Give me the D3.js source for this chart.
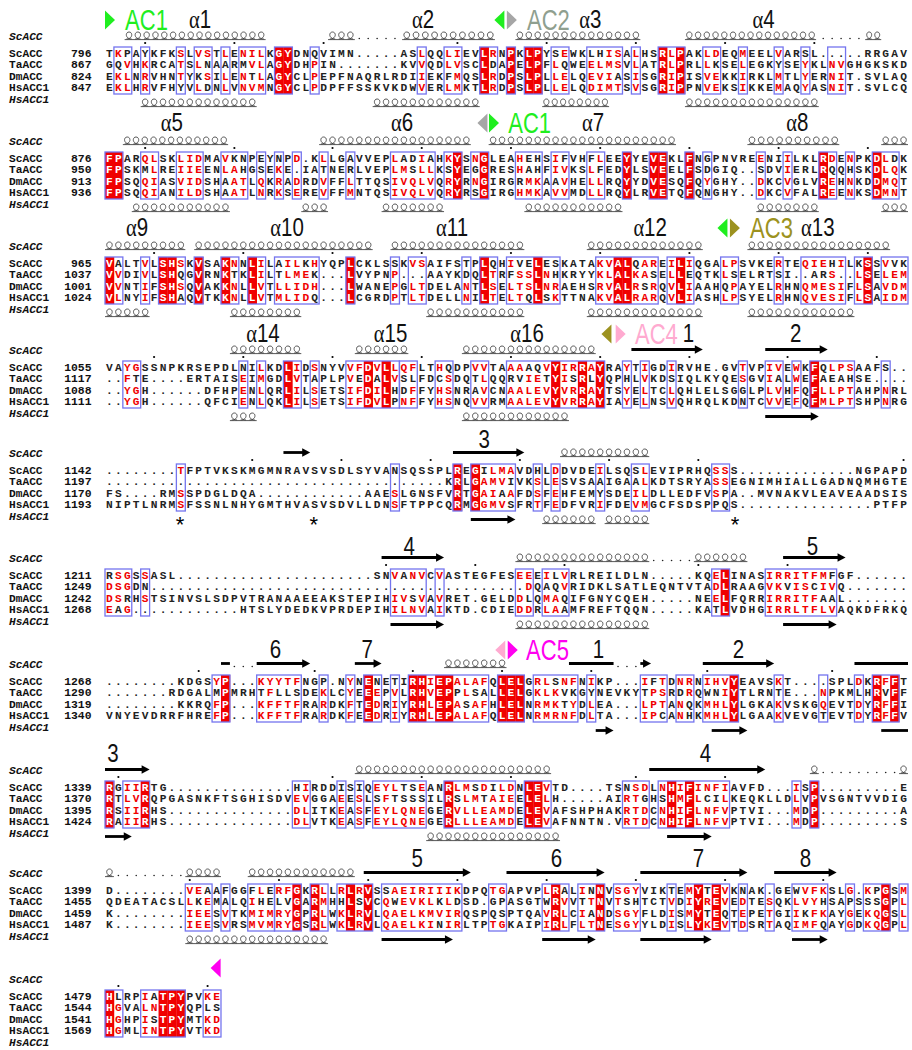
<!DOCTYPE html>
<html><head><meta charset="utf-8">
<script src="https://cdn.jsdelivr.net/npm/d3@7"></script>
<style>html,body{margin:0;padding:0;background:#fff}svg{display:block}</style>
</head><body><svg id="c" width="912" height="1050"></svg>
<script>
const speciesNames = ["ScACC","TaACC","DmACC","HsACC1"];
const startsSc = [796,876,965,1055,1142,1211,1268,1339,1399,1479];
const startsTa = [867,950,1037,1117,1197,1249,1290,1370,1455,1544];
const startsDm = [824,913,1001,1088,1170,1242,1319,1395,1459,1541];
const startsHs = [847,936,1024,1111,1193,1268,1340,1424,1487,1569];
const seqSc = [
"TKPAYKFKSLVSTLENILKGYDNQVIMN.....ASLQQLIEVLRNPKLPYSEWKLHISALHSRLPAKLDEQMEELVARSL.....RRGAV",
"FPARQLSKLIDMAVKNPEYNPD.KLLGAVVEPLADIAHKYSNGLEAHEHSIFVHFLEEYYEVEKLFNGPNVREENIILKLRDENPKDLDK",
"VALTVLSHSKVSAKNNLILAILKHYQPLCKLSSKVSAIFSTPLQHIVELESKATAKVALQAREILIQGALPSVKERTEQIEHILKSSVVK",
"VAYGSSNPKRSEPDLNILKDLIDSNYVVFDVLLQFLTHQDPVVTAAAAQVYIRRAYRAYTIGDIRVHE.GVTVPIVEWKFQLPSAAFS..",
"........TFPTVKSKMGMNRAVSVSDLSYVANSQSSPLREGILMAVDHLDDVDEILSQSLEVIPRHQSSS.............NGPAPD",
"RSGSSASL......................SNVANVCVASTEGFESEEEILVRLREILDLN.....KQELINASIRRITFMFGF......",
"........KDGSYP...KYYTFNGP.NYNENETIRHIEPALAFQLELGRLSNFNIKP...IFTDNRNIHVYEAVSKT....SPLDKRFFT",
"RGIIRTG..............HIRDDISIQEYLTSEANRLMSDILDNLEVTD....TSNSDLNHIFINFIAVFD...ISP.........E",
"D........VEAAFGGFLERFGKRLLRLRVSSAEIRIIIKDPQTGAPVPLRALINNVSGYVIKTEMYTEVKNAK.GEWVFKSLG.KPGSM",
"HLRPIATPYPVKE"];
const seqTa = [
"GQVHKRCATSLNAARMVLAGYDHPIN.......KVVQDLVSCLDAPELPFLQWEELMSVLATRLPRLLKSELEGKYSEYKLNVGHGKSKD",
"FPSKMLREIIEENLAHGSEKE.IATNERLVEPLMSLLKSYEGGRESHAHFIVKSLFEDYLSVEELFSDGIQ..SDVIERLRQQHSKDLQK",
"VVDIVLSHQGVRNKTKLILTLMEK...LVYPNP...AAYKDQLTRFSSLNHKRYYKLALKASELLEQTKLSELRTSI..ARS..LSELEM",
"..FTE....ERTAISEIMGDLVTAPLPVEDALVSLFDCSDQTLQQRVIETYISRLYQPHLVKDSIQLKYQESGVIALWEFAEAHSE....",
"......................................KRLGAMVIVKSLESVSAAIGAALKDTSRYASSEGNIMHIALLGADNQMHGTE",
"DSGDN..........................................DQAQVRIDKLSATLEQNTVTADLRAAGVKVISCIVQ.......",
".......RDGALMPMRHTFLLSDEKLCYEEEPVLRHVEPPLSALLELGKLKVKGYNEVKYTPSRDRQWNIYTLRNTE...NPKMLHRVFF",
"RTLVRQPGASNKFTSGHISDVEVGGAEESLSFTSSSILRSLMTAIEELELH.....AIRTGHSHMFLCILKEQKLLDLVPVSGNTVVDIG",
"QDEATACSLLKEMALQIHELVGARMHHLSVCQWEVKLKLDSD.GPASGTWRVVTTNVTSHTCTVDIYREVEDTESQKLVYHSAPSSSGPL",
"HGVALNTPYQPLS"];
const seqDm = [
"EKLNRVHNTYKSILENTLAGYCLPEPFNAQRLRDIIEKFMQSLRDPSLPLLELQEVIASISGRIPISVEKKIRKLMTLYERNIT.SVLAQ",
"FPSQQIASVIDSHAATLQKRADRDVFFLTTQSIVQLVQRYRNGIRGRMKAAVHELLRQYYDVESQFQYGHY..DKCVGLVREHNKDDMQT",
"VVNTIFSHSQVAKKNLLVTLLIDH...LWANEPGLTDELANTLSELTSLNRAEHSRVALRSRQVLIAAHQPAYELRHNQMESIFLSAVDM",
"..YGH......DFHPENLQRLILSETSIFDILHDFFYHSNRAVCNAALEVYVRRAYTSYELTCLQHLELSGGLPLVHFQFLLPTAHPNRL",
"FS....RMSSPDGLDQA............AAESLGNSFVRTGAIAAFDSFEHFEMYSDEILDLLEDFVSPA..MVNAKVLEAVEAADSIS",
"DSRHSTSINVSLSDPVTRANAAEEAKSTEPIHIVSVAVRET.GELDDLQMAQIFGNYCQEH.....NEELFQRRIRRITFAAL.......",
"........KKRQFP...KFFTFRARDKFTEDRIYRHLEPASAFHLELNRMKTYDLEA...LPTANQKMHLYLGKAKVSKGQEVTDYRFFI",
"RSIIRHS..............DLITKEASFEYLQNEGERVLLEAMDELEVAFSHPHAKRTDCNHIFLNFVPTVI...MDP.........A",
"K........IEESVTKMIMRYGPRLWKLRVLQAELKMVIRQSPQSPTQAVRLCIANDSGYFLDISMYTEQTEPETGIIKFKAYGEKQGSL",
"HGHPISTPYMTKD"];
const seqHs = [
"EKLHRVFHYVLDNLVNVMNGYCLPDPFFSSKVKDWVERLMKTLRDPSLPLLELQDIMTSVSGRIPPNVEKSIKKEMAQYASNIT.SVLCQ",
"FPSQQIANILDSHAATLNRKSEREVFFMNTQSIVQLVQRYRSGIRGHMKAVVMDLLRQYLRVETQFQNGHY..DKCVFALREENKSDMNT",
"VLNYIFSHAQVTKKNLLVTMLIDQ...LCGRDPTLTDELLNILTELTQLSKTTNAKVALRARQVLIASHLPSYELRHNQVESIFLSAIDM",
"..YGH......QFCIENLQKLILSETSIFDVLPNFFYHSNQVVRMAALEVYVRRAYIAYELNSVQHRQLKDNTCVVEFQFMLPTSHPNRG",
"NIPTLNRMSFSSNLNHYGMTHVASVSDVLLDNSFTPPCQRMGGMVSFRTFEDFVRIFDEVMGCFSDSPPQS...............PTFP",
"EAG............HTSLYDEDKVPRDEPIHILNVAIKTD.CDIEDDRLAAMFREFTQQN.....KATLVDHGIRRLTFLVAQKDFRKQ",
"VNYEVDRRFHREFP...KFFTFRARDKFEEDRIYRHLEPALAFQLELNRMRNFDLTA...IPCANHKMHLYLGAAKVEVGTEVTDYRFFV",
"RAIIRHS..............DLVTKEASFEYLQNEGERLLLEAMDELEVAFNNTN.VRTDCNHIFLNFVPTVI...MDP.........S",
"K........IEESVRSMVMRYGSRLWKLRVLQAELKINIRLTPTGKAIPIRLFLTNESGYYLDISLYKEVTDSRTAQIMFQAYGDKQGPL",
"HGMLINTPYVTKD"];
const solidCols = [
[19,20,42,45,47,48,62,64],
[0,1,39,42,58,61,62,65,80,86],
[0,6,7,10,13,16,27,42,48,57,58,64,85],
[20,29,31,50,53,55,79],
[39,41],
[69],
[13,29,34,35,37,38,44,45,46,70,86,88],
[0,4,38,47,48,63,65,79],
[21,23,27,29,50,55,66,68,87],
[0,6,7,8]];
const frames = [
[[1,2],[4,4],[8,8],[10,11],[13,13],[15,17],[19,20],[23,23],[35,35],[38,39],[42,43],[45,45],[47,48],[50,51],[54,57],[59,59],[62,64],[67,68],[71,71],[75,75],[78,78],[81,82]],
[[0,1],[4,5],[8,10],[13,15],[17,17],[19,19],[21,21],[24,24],[27,27],[32,36],[38,39],[41,42],[46,48],[50,51],[54,55],[58,58],[61,62],[65,65],[67,67],[73,73],[76,76],[80,81],[83,83],[86,88]],
[[0,1],[4,4],[6,8],[10,10],[13,14],[16,17],[19,23],[27,27],[32,32],[34,35],[40,40],[42,43],[45,50],[55,61],[63,65],[69,70],[75,75],[78,82],[84,85],[87,89]],
[[2,3],[15,15],[17,17],[20,21],[23,23],[27,32],[33,34],[37,38],[41,42],[45,55],[58,58],[60,60],[63,63],[71,71],[74,75],[77,77],[79,83],[87,87]],
[[8,8],[32,32],[39,39],[41,45],[48,48],[50,50],[55,55],[59,60],[68,69]],
[[0,2],[4,4],[32,35],[37,37],[46,47],[49,51],[68,69],[74,81]],
[[12,13],[17,21],[24,24],[27,27],[29,30],[32,32],[34,42],[44,46],[48,52],[54,54],[60,62],[64,65],[67,70],[75,75],[80,80],[84,84],[86,88]],
[[0,0],[2,4],[21,22],[26,26],[28,28],[30,35],[38,45],[47,49],[58,60],[62,69],[77,77],[79,79]],
[[9,11],[13,13],[16,18],[19,21],[23,24],[26,29],[31,39],[43,44],[49,51],[53,55],[57,59],[63,63],[65,69],[71,71],[74,74],[77,80],[83,83],[85,87],[89,89]],
[[0,1],[4,8],[11,12]]];
const topTracks = [
[["c",2.2,18],["c",25,28],["g",28,33],["c",33.3,43.7],["c",46,60],["c",65,79.7],["g",80,85],["c",85.2,87]],
[["c",2,13.8],["c",24,41],["c",43,64],["c",72,82.3],["c",87,90]],
[["c",0,9],["c",10,30],["c",32,47],["c",54,67],["c",72,88]],
[["c",14,22],["c",28,34],["c",40,55],["a",59,67],["a",74,81]],
[["a",20,23],["a",39,47],["c",51,61]],
[["a",31,38],["c",46,61],["g",61,66],["c",66,72],["a",76,83]],
[["s",13,14],["g",14,17],["a",17,23],["a",28,31],["c",38,45],["s",52,57],["g",57,60],["a",60,61.2],["a",67,75],["s",84,90]],
[["a",0,5],["c",28,50],["a",61,74],["c",79,80],["g",80,89],["c",89,90]],
[["c",0,1],["g",1,9],["c",9,13],["c",16,28],["a",29,41],["a",45,56],["a",60,72],["a",75,82]],
[]];
const bottomTracks = [
[["c",4,17],["c",30,42],["c",49,56.5],["c",65,80]],
[["c",3,14],["c",22,25],["c",31,38],["c",47,58],["c",73,80],["c",87,90]],
[["c",0,5],["c",14,22],["c",36,47],["c",54,67],["c",72,84]],
[["c",14,17],["c",40,52],["a",74,80]],
[["a",41,46],["c",49,55],["c",56,61]],
[["a",32,38],["c",46,61],["a",76,82]],
[["a",55,57],["a",68,72],["s",87,90]],
[["a",0,3],["c",36,51],["a",63,68]],
[["c",9,25],["a",31,39],["a",49,55],["a",60,68],["a",77,81]],
[]];
const structureLabels = [
[["\u03b1","1",10.65],["\u03b1","2",35.65],["\u03b1","3",54.4],["\u03b1","4",73.8]],
[["\u03b1","5",7.5],["\u03b1","6",33.3],["\u03b1","7",54.7],["\u03b1","8",77.6]],
[["\u03b1","9",3.6],["\u03b1","10",20.4],["\u03b1","11",38.9],["\u03b1","12",61.1],["\u03b1","13",79.9]],
[["\u03b1","14",17.7],["\u03b1","15",32],["\u03b1","16",47.3],["","1",65.4],["","2",77.4]],
[["","3",42.5]],
[["","4",34.1],["","5",79.3]],
[["","6",19.1],["","7",29.4],["","1",55.3],["","2",71]],
[["","3",0.9],["","4",67.3]],
[["","5",35],["","6",50.6],["","7",66.5],["","8",78.5]],
[]];
const colGreen="#1fee1f",colGray="#a6a6a6",colOlive="#9c9220",colPink="#ffaad0",colMagenta="#ff00f0";
const acLabels = [
[["AC1",4.65,colGreen],["AC2",49.7,"#8f9f8f"]],
[["AC1",47.6,colGreen]],
[["AC3",74.7,colOlive]],
[["AC4",61.8,colPink]],
[],[],
[["AC5",49.6,colMagenta]],
[],[],[]];
const acMarks = [
[[1,0.56,colGreen],[-1,44.2,colGreen],[1,45.6,colGray]],
[[-1,42.3,colGray],[1,43.6,colGreen]],
[[-1,69.2,colGreen],[1,70.6,colOlive]],
[[-1,56.2,colOlive],[1,57.8,colPink]],
[],[],
[[-1,44.3,colPink],[1,45.7,colMagenta]],
[],[],
[[-1,12.4,colMagenta]]];
const asteriskCols = [[],[],[],[],[8.4,23.4,70.6],[],[],[],[],[]];
const simGroups = ["ILVM","FYW","KR","DE","NQ","ST","AG","H","P","C"];

/* layout */
const svg = d3.select("#c");
const x = d3.scaleLinear().domain([0,90]).range([105,908]);
const blockY = [53,158,263,367,470,575,681,787,890,996];
const labelY = [20,123,228,334,440,547,650,754,859,968];
const rowY = d3.scaleLinear().domain([0,1]).range([0,11.45]);
const RED="#f00000", BLUE="#7474ee", mono="'Liberation Mono','DejaVu Sans Mono',monospace";
const sans="'Liberation Sans',sans-serif";
const cw = x(1)-x(0);

function groupOf(ch){ return simGroups.findIndex(g=>g.includes(ch)); }
function redLetters(col){
  const counts = {};
  col.forEach(ch=>{ if(ch!=="."){const g=groupOf(ch); counts[g]=(counts[g]||0)+1;} });
  const best = d3.greatest(Object.entries(counts),d=>d[1]);
  return best ? +best[0] : -1;
}
function coilPath(a,b,y){
  const p=d3.path(), n=Math.max(1,Math.round(b-a));
  const step=(x(b)-x(a))/n, h=7;
  for(let i=0;i<n;i++){
    const l=x(a)+i*step;
    p.moveTo(l+step*.2,y);
    p.bezierCurveTo(l+step*.95,y,l+step*.95,y-h,l+step*.5,y-h);
    p.bezierCurveTo(l+step*.05,y-h,l+step*.05,y,l+step*.8,y);
  }
  p.moveTo(x(a),y+.6); p.lineTo(x(b),y+.6);
  return p.toString();
}
function drawTrack(g,items,y){
  items.forEach(([k,a,b])=>{
    if(k==="c"){
      g.append("path").attr("d",coilPath(a,b,y)).attr("fill","none").attr("stroke","#444").attr("stroke-width",.9);
    } else if(k==="g"){
      g.selectAll(null).data(d3.range(Math.ceil(a),Math.floor(b))).join("circle")
        .attr("cx",d=>x(d+.5)).attr("cy",y-.5).attr("r",.8).attr("fill","#222");
    } else {
      const ym=y-3.5, xe=x(b);
      const hasHead = k==="a";
      g.append("line").attr("x1",x(a)).attr("x2",hasHead?xe-6:xe).attr("y1",ym).attr("y2",ym)
        .attr("stroke","#000").attr("stroke-width",2.8);
      if(hasHead) g.append("path").attr("d",d3.line()([[xe-8,ym-4.2],[xe,ym],[xe-8,ym+4.2]])+"Z").attr("fill","#000");
    }
  });
}

seqSc.forEach((_,bi)=>{
  const y0=blockY[bi], g=svg.append("g");
  const seqs=[seqSc[bi],seqTa[bi],seqDm[bi],seqHs[bi]];
  const starts=[startsSc[bi],startsTa[bi],startsDm[bi],startsHs[bi]];
  const top=y0-6, bottom=y0+41, solid=new Set(solidCols[bi]), framed=new Set();
  frames[bi].forEach(([a,b])=>d3.range(a,b+1).forEach(c=>framed.add(c)));

  g.selectAll("rect.s").data(solidCols[bi]).join("rect").attr("class","s")
    .attr("x",d=>x(d)).attr("width",cw+.3).attr("y",top).attr("height",bottom-top).attr("fill",RED);
  g.selectAll("rect.f").data(frames[bi]).join("rect").attr("class","f")
    .attr("x",d=>x(d[0])).attr("width",d=>x(d[1]+1)-x(d[0])).attr("y",top).attr("height",bottom-top)
    .attr("fill","none").attr("stroke",BLUE).attr("stroke-width",1.3);

  const cols=d3.range(seqs[0].length), best=cols.map(c=>redLetters(seqs.map(s=>s[c])));
  seqs.forEach((s,ri)=>{
    g.selectAll(null).data(cols).join("text")
      .attr("x",c=>x(c+.5)).attr("y",y0+rowY(ri)+4)
      .attr("text-anchor","middle").attr("font-family",mono).attr("font-size",11.2)
      .attr("font-weight","bold")
      .attr("fill",c=>{
        if(solid.has(c)) return "#fff";
        if(framed.has(c)&&s[c]!=="."&&groupOf(s[c])===best[c]) return RED;
        return "#222";
      }).text(c=>s[c]);
    g.append("text").attr("x",9).attr("y",y0+rowY(ri)+4).attr("font-family",mono)
      .attr("font-size",11.2).attr("font-weight","bold").attr("fill","#111").text(speciesNames[ri]);
    g.append("text").attr("x",91.5).attr("y",y0+rowY(ri)+4).attr("text-anchor","end").attr("font-family",mono)
      .attr("font-size",11.4).attr("font-weight","bold").attr("fill","#111").text(starts[ri]);
  });

  [[speciesNames[0],-17],[speciesNames[3],46]].forEach(([t,o])=>
    g.append("text").attr("x",9).attr("y",y0+o+4).attr("font-family",mono).attr("font-size",11.2)
      .attr("font-weight","bold").attr("font-style","italic").attr("fill","#111").text(t));

  let n=starts[0]-1; const dots=[];
  cols.forEach(c=>{ if(seqs[0][c]!=="."){n++; if(n%10===0) dots.push(c);} });
  g.selectAll("circle.d").data(dots).join("circle").attr("class","d")
    .attr("cx",c=>x(c+.5)).attr("cy",y0-10).attr("r",1.1).attr("fill","#000");

  drawTrack(g,topTracks[bi],y0-14);
  drawTrack(g,bottomTracks[bi],y0+53);

  const ly=labelY[bi];
  structureLabels[bi].forEach(([greek,num,c])=>{
    const t=g.append("text").attr("transform",`translate(${x(c)},${ly+8}) scale(.82,1)`)
      .attr("text-anchor","middle").attr("font-size",25).attr("fill","#111");
    if(greek) t.append("tspan").attr("font-family","'Liberation Serif',serif").attr("font-size",25).text(greek);
    t.append("tspan").attr("font-family",sans).text(num);
  });
  acLabels[bi].forEach(([txt,c,col])=>
    g.append("text").attr("transform",`translate(${x(c)},${ly+10}) scale(.76,1)`).attr("text-anchor","middle")
      .attr("font-family",sans).attr("font-size",29).attr("fill",col).text(txt));
  acMarks[bi].forEach(([dir,c,col])=>{
    const cx=x(c), hw=5, hh=9.5;
    g.append("path").attr("d",d3.line()([[cx-dir*hw,ly-hh],[cx+dir*hw,ly],[cx-dir*hw,ly+hh]])+"Z").attr("fill",col);
  });
  asteriskCols[bi].forEach(c=>
    g.append("text").attr("x",x(c)).attr("y",y0+62).attr("text-anchor","middle")
      .attr("font-family",sans).attr("font-size",22).attr("fill","#000").text("*"));
});
</script></body></html>
